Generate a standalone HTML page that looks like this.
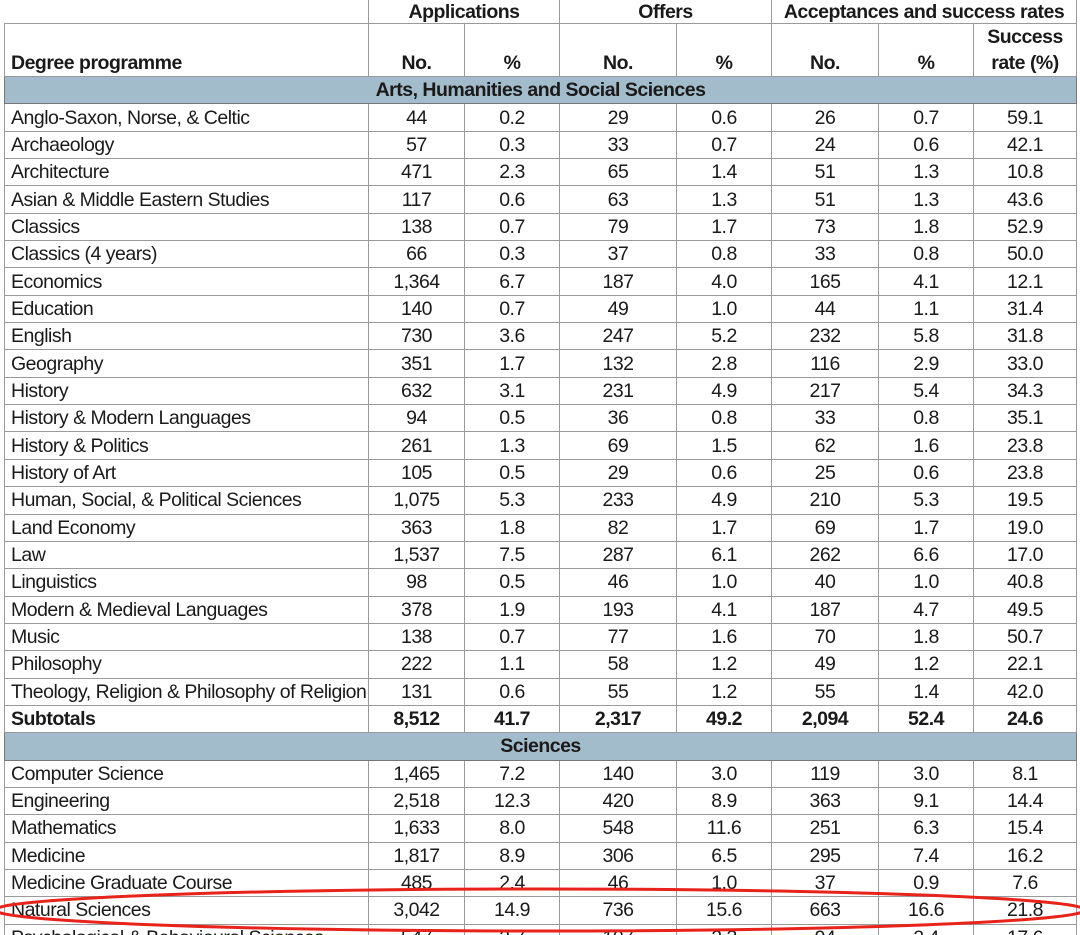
<!DOCTYPE html>
<html><head><meta charset="utf-8"><style>
html,body{margin:0;padding:0;background:#fff;width:1080px;height:935px;overflow:hidden}
body{position:relative;font-family:"Liberation Sans",sans-serif;color:#1a1a1a}
table{position:absolute;left:4px;top:0;width:1072px;border-collapse:collapse;table-layout:fixed;font-size:19.5px;letter-spacing:-0.5px}
td{border:1px solid #9a9a9a;padding:0 6px;white-space:nowrap;overflow:hidden;text-align:center;height:26.35px;line-height:26px}
td.n{text-align:left}
.h td{font-weight:bold}
.band td{background:#a3bccb;font-weight:bold;border-color:#777}
.sub td{font-weight:bold}
svg{position:absolute;left:0;top:0}
</style></head><body>
<table id="t">
<colgroup><col style="width:364px"><col style="width:96px"><col style="width:95px"><col style="width:117px"><col style="width:95px"><col style="width:107px"><col style="width:95px"><col style="width:103px"></colgroup>
<tr class="h"><td style="border-top:none;border-left:none;height:23px;line-height:18px"></td><td colspan="2" style="border-top:none;height:23px;line-height:18px">Applications</td><td colspan="2" style="border-top:none;height:23px;line-height:18px">Offers</td><td colspan="3" style="border-top:none;height:23px;line-height:18px">Acceptances and success rates</td></tr>
<tr class="h"><td class="n" style="height:52px;vertical-align:bottom;line-height:26px">Degree programme</td><td style="vertical-align:bottom">No.</td><td style="vertical-align:bottom">%</td><td style="vertical-align:bottom">No.</td><td style="vertical-align:bottom">%</td><td style="vertical-align:bottom">No.</td><td style="vertical-align:bottom">%</td><td style="vertical-align:bottom;line-height:26px">Success<br>rate (%)</td></tr>
<tbody id="body"></tbody>
</table>
<svg width="1080" height="935"><ellipse cx="540" cy="910" rx="545" ry="21" fill="none" stroke="#e8231b" stroke-width="3"/></svg>
<script>
const arts = [
["Anglo-Saxon, Norse, & Celtic","44","0.2","29","0.6","26","0.7","59.1"],
["Archaeology","57","0.3","33","0.7","24","0.6","42.1"],
["Architecture","471","2.3","65","1.4","51","1.3","10.8"],
["Asian & Middle Eastern Studies","117","0.6","63","1.3","51","1.3","43.6"],
["Classics","138","0.7","79","1.7","73","1.8","52.9"],
["Classics (4 years)","66","0.3","37","0.8","33","0.8","50.0"],
["Economics","1,364","6.7","187","4.0","165","4.1","12.1"],
["Education","140","0.7","49","1.0","44","1.1","31.4"],
["English","730","3.6","247","5.2","232","5.8","31.8"],
["Geography","351","1.7","132","2.8","116","2.9","33.0"],
["History","632","3.1","231","4.9","217","5.4","34.3"],
["History & Modern Languages","94","0.5","36","0.8","33","0.8","35.1"],
["History & Politics","261","1.3","69","1.5","62","1.6","23.8"],
["History of Art","105","0.5","29","0.6","25","0.6","23.8"],
["Human, Social, & Political Sciences","1,075","5.3","233","4.9","210","5.3","19.5"],
["Land Economy","363","1.8","82","1.7","69","1.7","19.0"],
["Law","1,537","7.5","287","6.1","262","6.6","17.0"],
["Linguistics","98","0.5","46","1.0","40","1.0","40.8"],
["Modern & Medieval Languages","378","1.9","193","4.1","187","4.7","49.5"],
["Music","138","0.7","77","1.6","70","1.8","50.7"],
["Philosophy","222","1.1","58","1.2","49","1.2","22.1"],
["Theology, Religion & Philosophy of Religion","131","0.6","55","1.2","55","1.4","42.0"]];
const artsSubtotal = ["Subtotals","8,512","41.7","2,317","49.2","2,094","52.4","24.6"];
const sciences = [
["Computer Science","1,465","7.2","140","3.0","119","3.0","8.1"],
["Engineering","2,518","12.3","420","8.9","363","9.1","14.4"],
["Mathematics","1,633","8.0","548","11.6","251","6.3","15.4"],
["Medicine","1,817","8.9","306","6.5","295","7.4","16.2"],
["Medicine Graduate Course","485","2.4","46","1.0","37","0.9","7.6"],
["Natural Sciences","3,042","14.9","736","15.6","663","16.6","21.8"],
["Psychological & Behavioural Sciences","547","2.7","107","2.3","94","2.4","17.6"]];
const tb = document.getElementById('body');
function band(label){
  const tr=document.createElement('tr');tr.className='band';
  
  
  const td=document.createElement('td');td.colSpan=8;td.textContent=label;
  
  
  tr.appendChild(td);tb.appendChild(tr);
}
function row(r,cls){
  const tr=document.createElement('tr');if(cls)tr.className=cls;
  
  
  r.forEach((v,i)=>{const td=document.createElement('td');td.textContent=v;if(i==0)td.className='n';
    
    
    tr.appendChild(td);});
  tb.appendChild(tr);
}
band('Arts, Humanities and Social Sciences');
arts.forEach(r=>row(r));
row(artsSubtotal,'sub');
band('Sciences');
sciences.forEach(r=>row(r));
</script>
</body></html>
